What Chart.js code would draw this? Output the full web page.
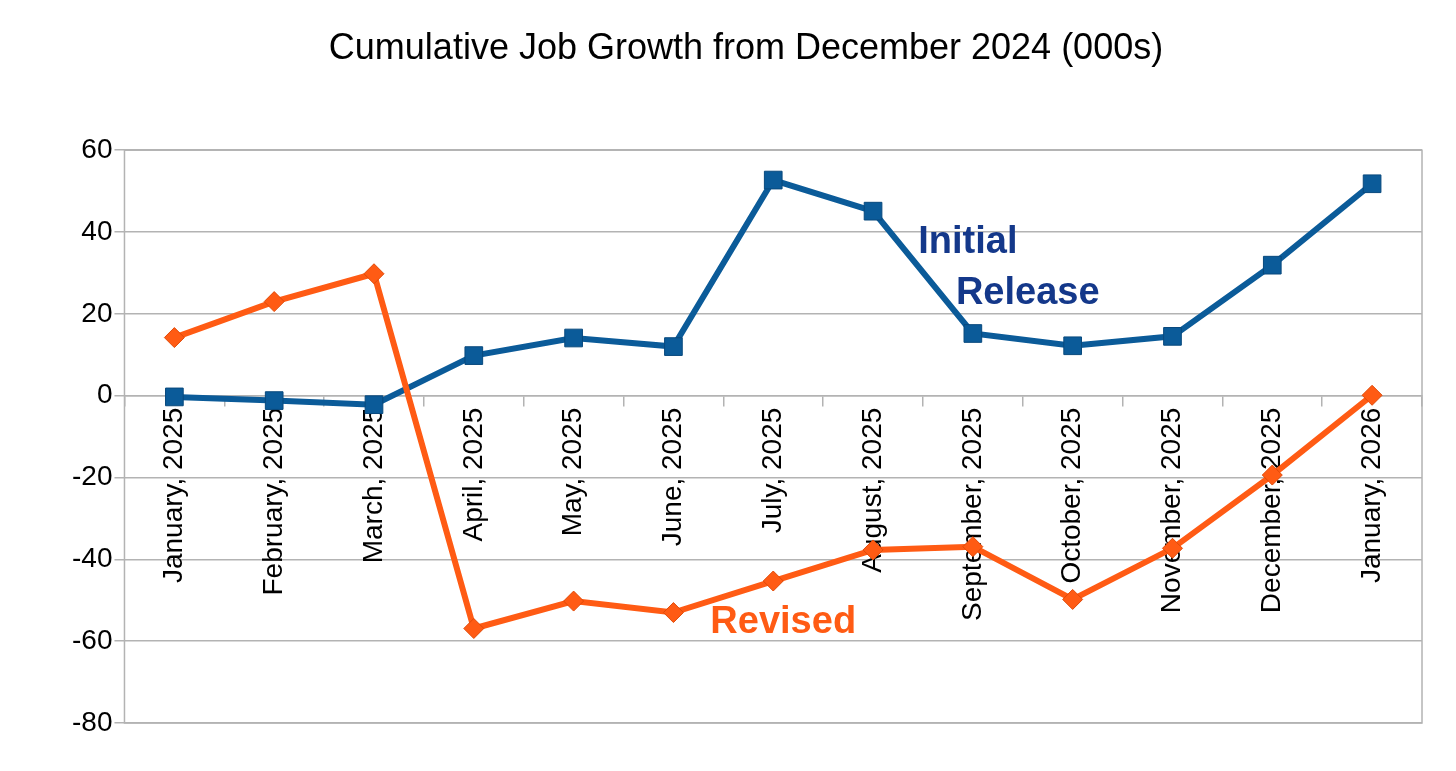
<!DOCTYPE html>
<html>
<head>
<meta charset="utf-8">
<script src="https://cdn.jsdelivr.net/npm/chart.js@4"></script>
<style>
  body { margin: 0; background: #fff; }
  canvas { display: block; }
</style>
</head>
<body>
<canvas id="c" width="1456" height="771"></canvas>
<script>
// data
const months = ['January, 2025', 'February, 2025', 'March, 2025', 'April, 2025', 'May, 2025', 'June, 2025',
  'July, 2025', 'August, 2025', 'September, 2025', 'October, 2025', 'November, 2025', 'December, 2025', 'January, 2026'];
const initialRelease = [-0.3, -1.2, -2.2, 9.8, 14.1, 12.0, 52.7, 45.1, 15.2, 12.2, 14.5, 31.9, 51.8];
const revised = [14.2, 23.0, 29.8, -56.9, -50.2, -53.0, -45.3, -37.7, -36.9, -49.8, -37.3, -19.4, 0.1];
const yTicks = [60, 40, 20, 0, -20, -40, -60, -80];

const blue = '#0b5b99';
const orange = '#ff5b14';

// frame around the plot + series labels
const extras = {
  id: 'extras',
  afterDraw(chart) {
    const ctx = chart.ctx;
    const a = chart.chartArea;
    const x = chart.scales.x, y = chart.scales.y;
    ctx.save();
    ctx.strokeStyle = '#b3b3b3';
    ctx.lineWidth = 1.5;
    ctx.strokeRect(a.left, a.top, a.right - a.left, a.bottom - a.top);
    ctx.font = 'bold 38px "Liberation Sans", Arial, sans-serif';
    ctx.textAlign = 'center';
    ctx.textBaseline = 'middle';
    ctx.fillStyle = '#14388a';
    ctx.fillText('Initial', x.getPixelForValue(7.95), y.getPixelForValue(37.5));
    ctx.fillText('Release', x.getPixelForValue(8.55), y.getPixelForValue(25));
    ctx.fillStyle = orange;
    ctx.fillText('Revised', x.getPixelForValue(6.1), y.getPixelForValue(-55.5));
    ctx.restore();
  }
};

new Chart(document.getElementById('c'), {
  type: 'line',
  data: {
    labels: months,
    datasets: [
      {
        label: 'Revised',
        data: revised,
        borderColor: orange,
        backgroundColor: orange,
        borderWidth: 6,
        pointStyle: 'rectRot',
        pointRadius: 10,
        pointBorderColor: '#e04a08',
        pointBorderWidth: 1,
        tension: 0
      },
      {
        label: 'Initial Release',
        data: initialRelease,
        borderColor: blue,
        backgroundColor: blue,
        borderWidth: 6,
        pointStyle: 'rect',
        pointRadius: 12.5,
        pointBorderColor: '#08497d',
        pointBorderWidth: 1,
        tension: 0
      }
    ]
  },
  options: {
    responsive: false,
    animation: false,
    layout: { padding: { left: 70, right: 34, bottom: 48, top: 0 } },
    plugins: {
      legend: { display: false },
      tooltip: { enabled: false },
      title: {
        display: true,
        text: 'Cumulative Job Growth from December 2024 (000s)',
        color: '#000',
        font: { family: '"Liberation Sans", Arial, sans-serif', size: 36, weight: 'normal' },
        padding: { top: 27, bottom: 80 }
      }
    },
    scales: {
      x: {
        type: 'category',
        position: { y: 0 },
        offset: true,
        grid: { display: true, drawOnChartArea: false, offset: true, tickLength: 10, color: '#b3b3b3', lineWidth: 1.5 },
        border: { color: '#b3b3b3', width: 1.5 },
        ticks: {
          minRotation: 90, maxRotation: 90, autoSkip: false, padding: 2,
          color: '#000',
          font: { family: '"Liberation Sans", Arial, sans-serif', size: 28 }
        }
      },
      y: {
        min: -80, max: 60,
        afterBuildTicks(axis) { axis.ticks = yTicks.map(v => ({ value: v })); },
        grid: { color: '#b3b3b3', lineWidth: 1.5, tickLength: 10 },
        border: { display: false },
        ticks: {
          color: '#000', padding: 2,
          font: { family: '"Liberation Sans", Arial, sans-serif', size: 28 }
        }
      }
    }
  },
  plugins: [extras]
});
</script>
</body>
</html>
